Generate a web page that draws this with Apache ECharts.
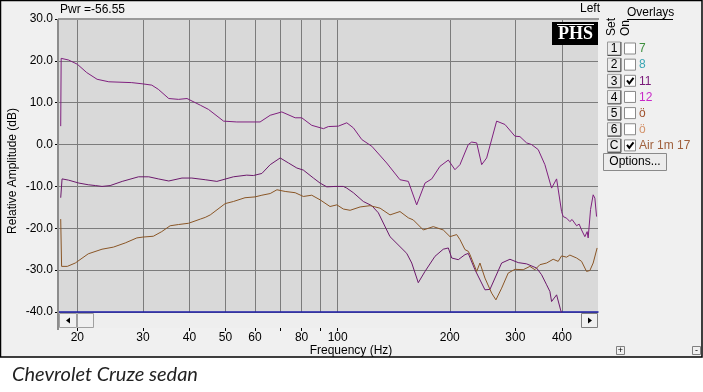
<!DOCTYPE html>
<html><head><meta charset="utf-8">
<script src="https://cdn.jsdelivr.net/npm/echarts@6/dist/echarts.min.js"></script>
<style>html,body{margin:0;padding:0;background:#fff}#c{width:703px;height:392px}</style>
</head><body><div id="c"></div>
<script>
// ---- data ----
const xMin = 17.75, xMax = 500;
const yMin = -40, yMax = 30, yStep = 10;
const xGridTicks = [20,30,40,50,60,70,80,90,100,200,300,400];
const xTickLabels = [20,30,40,50,60,80,100,200,300,400];
const pwrText = 'Pwr =-56.55';
const channelText = 'Left';
const xTitle = 'Frequency (Hz)';
const yTitle = 'Relative Amplitude (dB)';
const caption = 'Chevrolet Cruze sedan';
const overlaySets = ['1','2','3','4','5','6','C'];
const overlayNames = ['7','8','11','12','ö','ö','Air 1m 17'];
const overlayOn = [false,false,true,false,false,false,true];

const curveMain = [[18.05,4.4],[18.1,20.6],[18.3,20.6],[18.95,20.2],[20.0,19.2],[21.2,17.2],[22.6,15.6],[24.3,15.0],[28.0,14.8],[30.0,14.5],[31.7,14.2],[33.0,13.2],[35.2,11.0],[37.4,10.8],[39.4,11.0],[42.8,9.4],[45.0,8.4],[49.4,5.6],[53.6,5.4],[61.9,5.4],[65.9,7.0],[70.8,7.8],[76.9,6.4],[80.1,6.4],[85.2,4.6],[91.6,3.8],[94.4,4.3],[100.4,4.4],[105.8,5.2],[110.2,4.0],[116.1,1.2],[123.5,-0.4],[135.4,-4.4],[147.0,-8.4],[154.8,-8.8],[163.0,-14.4],[171.6,-9.2],[178.9,-8.2],[188.2,-5.2],[198.2,-3.7],[206.5,-6.0],[213.0,-4.8],[224.2,0.0],[229.0,0.6],[236.2,0.4],[243.6,-4.8],[251.2,-3.2],[267.2,5.6],[281.3,4.8],[299.2,2.0],[308.6,1.9],[321.6,0.4],[331.7,0.0],[345.5,-1.2],[360.1,-4.8],[375.3,-10.4],[387.1,-8.2],[399.2,-16.0],[403.2,-17.2],[412,-17.6],[420.2,-18.4],[426,-17.9],[438.0,-19.4],[445,-19.0],[451.7,-20.4],[456,-20.0],[461.0,-22.0],[467.6,-20.8],[470.5,-22.3],[477.5,-15.5],[485.3,-12.0],[490.4,-12.8],[495.6,-17.2]];

const curve11 = [[18.05,-12.7],[18.2,-8.2],[18.95,-8.5],[20.2,-9.2],[21.4,-9.6],[22.4,-9.8],[23.3,-10.0],[24.5,-9.8],[26.4,-8.8],[29.2,-7.7],[31.1,-7.7],[33.0,-8.2],[35.2,-8.7],[38.2,-8.0],[40.6,-8.0],[44.1,-8.4],[47.4,-8.8],[52.5,-7.7],[57.0,-7.3],[59.4,-7.4],[62.6,-6.9],[65.9,-4.8],[70.1,-3.2],[73.8,-4.4],[77.7,-5.6],[80.9,-6.1],[86.1,-8.0],[89.7,-9.2],[93.5,-10.1],[98.4,-10.0],[103.6,-10.0],[105.8,-10.4],[110.2,-11.5],[117.2,-13.6],[123.5,-14.6],[128.6,-16.3],[138.2,-22.0],[153.3,-26.0],[158.1,-28.3],[164.6,-33.0],[171.6,-30.3],[182.5,-26.7],[192.1,-25.0],[198.2,-24.7],[202.4,-27.1],[210.8,-27.5],[219.7,-26.3],[224.2,-26.0],[233.7,-29.9],[248.6,-34.7],[256.4,-34.6],[275.6,-28.3],[290.1,-27.4],[305.3,-28.2],[321.6,-28.5],[342.1,-29.5],[352.8,-31.1],[363.9,-33.5],[371.4,-35.1],[375.3,-37.5],[387.1,-35.9],[396.8,-39.5],[404,-41.5]];

const curveAir = [[18.05,-17.8],[18.15,-29.1],[18.8,-29.1],[19.75,-28.3],[21.4,-26.1],[23.3,-25.0],[25.0,-24.5],[26.9,-23.5],[28.9,-22.3],[30.0,-22.1],[32.0,-21.9],[33.7,-20.8],[35.5,-19.4],[37.4,-19.1],[39.8,-18.8],[42.8,-17.8],[44.1,-17.4],[45.5,-16.8],[49.9,-14.1],[52.5,-13.6],[56.4,-12.7],[60.0,-12.5],[62.6,-12.1],[65.9,-11.7],[68.7,-10.8],[72.3,-11.2],[76.9,-11.5],[80.9,-12.4],[85.2,-12.1],[89.7,-13.2],[95.4,-14.8],[99.5,-14.4],[103.6,-15.4],[108.0,-15.7],[114.9,-14.9],[122.2,-14.6],[130.0,-15.2],[138.2,-16.8],[147.0,-16.0],[154.8,-17.5],[159.6,-18.0],[169.8,-20.4],[180.6,-19.6],[192.1,-20.4],[200.3,-22.0],[208.7,-21.5],[213.0,-22.7],[219.7,-25.1],[224.2,-25.5],[226.6,-26.3],[236.2,-30.3],[241.0,-28.3],[248.6,-31.9],[259.1,-35.5],[266.0,-37.1],[275.6,-34.3],[287.0,-30.7],[299.2,-29.8],[314.9,-29.9],[328.2,-29.1],[338.5,-29.9],[349.1,-28.7],[363.9,-28.3],[379.0,-27.4],[390.9,-27.9],[399.2,-26.6],[411.7,-26.9],[420.2,-26.4],[438.0,-27.1],[451.7,-27.9],[465.8,-30.3],[475.4,-30.1],[485.3,-28.3],[497.3,-24.7]];

// ---- styles ----
const FONT = '"Liberation Sans", Arial, sans-serif';
const overlayColors = ['#3d8f3d','#3aa6b4','#7a1a7a','#c828c8','#a0522d','#d4946c','#a0603c'];
const G = {left:58, top:19, right:598, bottom:312};

const chart = echarts.init(document.getElementById('c'), null, {renderer:'canvas'});

const graphics = [];
graphics.push({type:'rect', z:-10, silent:true, shape:{x:0.5,y:0.5,width:701.5,height:356.5}, style:{fill:'#f0f0f0', stroke:'#000', lineWidth:1.5}});
graphics.push({type:'line', z:5, shape:{x1:G.left,y1:G.top,x2:G.right+1,y2:G.top}, style:{stroke:'#9a9a9a', lineWidth:2}});
graphics.push({type:'line', z:5, shape:{x1:G.left,y1:G.top,x2:G.left,y2:330}, style:{stroke:'#8c8c8c', lineWidth:2}});
graphics.push({type:'rect', z:5, shape:{x:59,y:313,width:539,height:15}, style:{fill:'#eeeeee'}});
graphics.push({type:'rect', z:6, shape:{x:59.5,y:313.5,width:17,height:14}, style:{fill:'#f0f0f0', stroke:'#a0a0a0'}});
graphics.push({type:'polygon', z:7, shape:{points:[[66,320.5],[70,317.5],[70,323.5]]}, style:{fill:'#000'}});
graphics.push({type:'rect', z:6, shape:{x:77.5,y:313.5,width:16,height:14}, style:{fill:'#f0f0f0', stroke:'#a0a0a0'}});
graphics.push({type:'rect', z:6, shape:{x:581.5,y:313.5,width:16,height:14}, style:{fill:'#f0f0f0', stroke:'#808080'}});
graphics.push({type:'polygon', z:7, shape:{points:[[592,320.5],[588,317.5],[588,323.5]]}, style:{fill:'#000'}});
graphics.push({type:'text', z:6, x:60, y:10, style:{text:pwrText, font:'12px '+FONT, fill:'#000', verticalAlign:'middle'}});
graphics.push({type:'text', z:6, x:600, y:9, style:{text:channelText, font:'12px '+FONT, fill:'#000', align:'right', verticalAlign:'middle'}});
graphics.push({type:'rect', z:20, shape:{x:552,y:22,width:46,height:23}, style:{fill:'#000'}});
graphics.push({type:'line', z:21, shape:{x1:557,y1:24.5,x2:594,y2:24.5}, style:{stroke:'#fff', lineWidth:1}});
graphics.push({type:'text', z:21, x:575.5, y:34, style:{text:'PHS', font:'bold 18px "Liberation Serif", "Times New Roman", serif', fill:'#fff', align:'center', verticalAlign:'middle'}});
graphics.push({type:'text', z:6, x:12.5, y:171, rotation:Math.PI/2, style:{text:yTitle, font:'12px '+FONT, fill:'#000', align:'center', verticalAlign:'middle'}});
graphics.push({type:'text', z:6, x:351, y:350.5, style:{text:xTitle, font:'12px '+FONT, fill:'#000', align:'center', verticalAlign:'middle'}});
graphics.push({type:'text', z:6, x:627, y:13, style:{text:'Overlays', font:'12px '+FONT, fill:'#000', verticalAlign:'middle'}});
graphics.push({type:'line', z:6, shape:{x1:627,y1:19.5,x2:673,y2:19.5}, style:{stroke:'#000', lineWidth:1}});
graphics.push({type:'text', z:6, x:612, y:36, rotation:Math.PI/2, style:{text:'Set', font:'12px '+FONT, fill:'#000', verticalAlign:'middle'}});
graphics.push({type:'text', z:6, x:626, y:36, rotation:Math.PI/2, style:{text:'On', font:'12px '+FONT, fill:'#000', verticalAlign:'middle'}});
overlaySets.forEach((s,i)=>{
  const cy = 48.5 + 16.15*i;
  graphics.push({type:'rect', z:6, shape:{x:607.5,y:cy-6.5,width:13,height:13}, style:{fill:'#ececec', stroke:'#9a9a9a'}});
  graphics.push({type:'polyline', z:7, shape:{points:[[607.5,cy+7],[621,cy+7],[621,cy-6.5]]}, style:{stroke:'#505050', lineWidth:1}});
  graphics.push({type:'text', z:7, x:614, y:cy+0.5, style:{text:s, font:'12px '+FONT, fill:'#000', align:'center', verticalAlign:'middle'}});
  graphics.push({type:'rect', z:6, shape:{x:624.5,y:cy-5.5,width:11,height:11}, style:{fill:'#fff', stroke:'#8a8a8a'}});
  if (overlayOn[i]) graphics.push({type:'polyline', z:7, shape:{points:[[627,cy-0.5],[629.3,cy+2.5],[633.5,cy-3]]}, style:{stroke:'#000', lineWidth:2}});
  graphics.push({type:'text', z:7, x:639, y:cy+0.5, style:{text:overlayNames[i], font:'12px '+FONT, fill:overlayColors[i], verticalAlign:'middle'}});
});
graphics.push({type:'rect', z:6, shape:{x:603.5,y:153.5,width:63,height:17}, style:{fill:'#ececec', stroke:'#8a8a8a'}});
graphics.push({type:'text', z:7, x:635, y:162, style:{text:'Options...', font:'12px '+FONT, fill:'#000', align:'center', verticalAlign:'middle'}});
graphics.push({type:'rect', z:6, shape:{x:616.5,y:346.5,width:8,height:8}, style:{fill:'#f0f0f0', stroke:'#808080'}});
graphics.push({type:'text', z:7, x:620.5,y:350.5, style:{text:'+', font:'9px '+FONT, fill:'#000', align:'center', verticalAlign:'middle'}});
graphics.push({type:'rect', z:6, shape:{x:692.5,y:346.5,width:8,height:8}, style:{fill:'#f0f0f0', stroke:'#808080'}});
graphics.push({type:'text', z:7, x:696.5,y:350.5, style:{text:'-', font:'9px '+FONT, fill:'#000', align:'center', verticalAlign:'middle'}});
graphics.push({type:'text', z:6, x:12, y:375, style:{text:caption, font:'italic 20px Lato, "Open Sans", sans-serif', fill:'#222', verticalAlign:'middle'}});

const option = {
  animation:false,
  grid:{left:G.left, top:G.top, width:G.right-G.left, height:G.bottom-G.top, show:true, backgroundColor:'#d9d9d9', borderWidth:0, containLabel:false, outerBoundsMode:'none'},
  xAxis:[
    {type:'log', logBase:10, min:xMin, max:xMax, position:'bottom',
     axisLine:{show:true, onZero:false, lineStyle:{color:'#1c1ca8', width:1.5}},
     axisTick:{show:false, customValues:xGridTicks},
     axisLabel:{show:false, customValues:xGridTicks},
     splitLine:{show:true, lineStyle:{color:'#7c7c7c', width:1}}},
    {type:'log', logBase:10, min:xMin, max:xMax, position:'bottom', offset:16,
     axisLine:{show:false, onZero:false},
     axisTick:{show:true, length:3, customValues:xGridTicks, lineStyle:{color:'#000'}},
     axisLabel:{show:true, customValues:xTickLabels, margin:4, fontSize:12, fontFamily:FONT, color:'#000'},
     splitLine:{show:false}}
  ],
  yAxis:{type:'value', min:yMin, max:yMax, interval:yStep,
    axisLine:{show:false},
    axisTick:{show:true, length:3, lineStyle:{color:'#000'}},
    axisLabel:{margin:5, fontSize:12, fontFamily:FONT, color:'#000', formatter:v=>v.toFixed(1)},
    splitLine:{show:true, lineStyle:{color:'#7c7c7c', width:1}}},
  series:[
    {name:'Measurement', type:'line', xAxisIndex:0, data:curveMain, showSymbol:false, symbol:'none', lineStyle:{color:'#80207f', width:1}, z:3},
    {name:overlayNames[2], type:'line', xAxisIndex:0, data:curve11, showSymbol:false, symbol:'none', lineStyle:{color:'#6c1a6c', width:1}, z:3},
    {name:overlayNames[6], type:'line', xAxisIndex:0, data:curveAir, showSymbol:false, symbol:'none', lineStyle:{color:'#8a5626', width:1}, z:3}
  ],
  graphic:{elements:graphics}
};
chart.setOption(option);
</script></body></html>
